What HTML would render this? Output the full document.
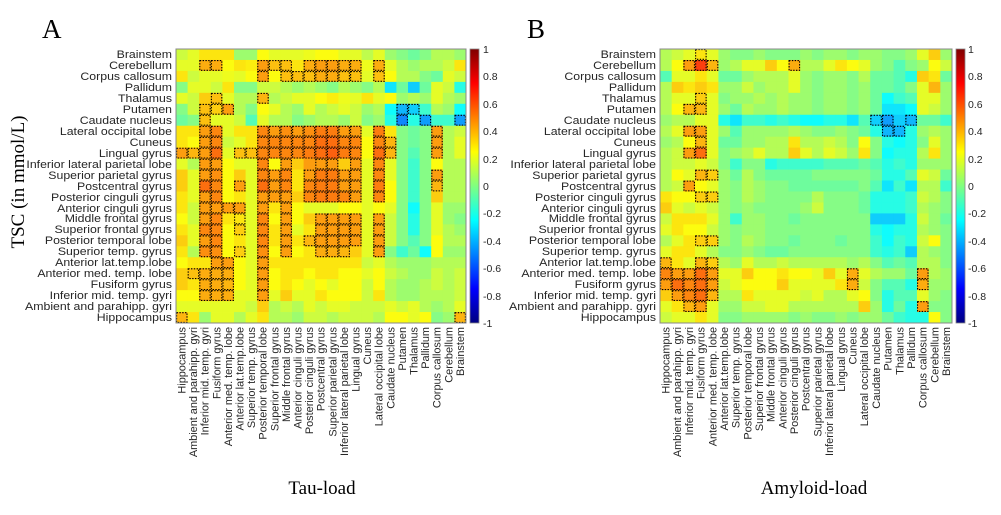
<!DOCTYPE html>
<html><head><meta charset="utf-8"><style>
html,body{margin:0;padding:0;background:#fff;}
svg{display:block;}
.lb{font-family:"Liberation Sans",Arial,sans-serif;font-size:10.5px;fill:#262626;}
.rl{font-size:11px;}
.cl{font-size:10.9px;}
.sf{font-family:"Liberation Serif","Times New Roman",serif;fill:#000;}
</style></head><body>
<svg id="s" width="1001" height="515" viewBox="0 0 1001 515" xmlns="http://www.w3.org/2000/svg">
<defs>
<linearGradient id="jet" x1="0" y1="0" x2="0" y2="1">
<stop offset="0" stop-color="#800000"/><stop offset="0.125" stop-color="#ff0000"/>
<stop offset="0.375" stop-color="#ffff00"/><stop offset="0.5" stop-color="#80ff80"/>
<stop offset="0.625" stop-color="#00ffff"/><stop offset="0.875" stop-color="#0000ff"/>
<stop offset="1" stop-color="#000080"/>
</linearGradient>
</defs>
<text class="sf" x="42" y="38" font-size="27">A</text>
<text class="sf" x="527" y="38" font-size="27">B</text>
<text class="sf" font-size="19" text-anchor="middle" transform="translate(24,182) rotate(-90)">TSC (in mmol/L)</text>
<text class="sf" x="322" y="494" font-size="19" text-anchor="middle">Tau-load</text>
<text class="sf" x="814" y="494" font-size="19" text-anchor="middle">Amyloid-load</text>
<g id="cellsA"></g><g id="cellsB"></g>
<rect x="176" y="49" width="290" height="274" fill="none" stroke="#888" stroke-width="1"/>
<rect x="660" y="49" width="292" height="274" fill="none" stroke="#888" stroke-width="1"/>
<rect x="470" y="49" width="9" height="274" fill="url(#jet)" stroke="#888" stroke-width="0.8"/>
<rect x="956" y="49" width="9" height="274" fill="url(#jet)" stroke="#888" stroke-width="0.8"/>
<g class="lb" text-anchor="start">
<text x="483" y="53">1</text><text x="483" y="80">0.8</text><text x="483" y="108">0.6</text><text x="483" y="135">0.4</text><text x="483" y="163">0.2</text><text x="483" y="190">0</text><text x="483" y="217">-0.2</text><text x="483" y="245">-0.4</text><text x="483" y="272">-0.6</text><text x="483" y="300">-0.8</text><text x="483" y="327">-1</text>
<text x="968" y="53">1</text><text x="968" y="80">0.8</text><text x="968" y="108">0.6</text><text x="968" y="135">0.4</text><text x="968" y="163">0.2</text><text x="968" y="190">0</text><text x="968" y="217">-0.2</text><text x="968" y="245">-0.4</text><text x="968" y="272">-0.6</text><text x="968" y="300">-0.8</text><text x="968" y="327">-1</text>
</g>
<g class="lb rl" text-anchor="end" transform="translate(172,0) scale(1.12,1) translate(-172,0)">
<text x="172" y="58">Brainstem</text><text x="172" y="69">Cerebellum</text><text x="172" y="80">Corpus callosum</text><text x="172" y="91">Pallidum</text><text x="172" y="102">Thalamus</text><text x="172" y="113">Putamen</text><text x="172" y="124">Caudate nucleus</text><text x="172" y="135">Lateral occipital lobe</text><text x="172" y="146">Cuneus</text><text x="172" y="157">Lingual gyrus</text><text x="172" y="168">Inferior lateral parietal lobe</text><text x="172" y="179">Superior parietal gyrus</text><text x="172" y="190">Postcentral gyrus</text><text x="172" y="201">Posterior cinguli gyrus</text><text x="172" y="212">Anterior cinguli gyrus</text><text x="172" y="222">Middle frontal gyrus</text><text x="172" y="233">Superior frontal gyrus</text><text x="172" y="244">Posterior temporal lobe</text><text x="172" y="255">Superior temp. gyrus</text><text x="172" y="266">Anterior lat.temp.lobe</text><text x="172" y="277">Anterior med. temp. lobe</text><text x="172" y="288">Fusiform gyrus</text><text x="172" y="299">Inferior mid. temp. gyri</text><text x="172" y="310">Ambient and parahipp. gyri</text><text x="172" y="321">Hippocampus</text>
</g>
<g class="lb rl" text-anchor="end" transform="translate(656,0) scale(1.12,1) translate(-656,0)">
<text x="656" y="58">Brainstem</text><text x="656" y="69">Cerebellum</text><text x="656" y="80">Corpus callosum</text><text x="656" y="91">Pallidum</text><text x="656" y="102">Thalamus</text><text x="656" y="113">Putamen</text><text x="656" y="124">Caudate nucleus</text><text x="656" y="135">Lateral occipital lobe</text><text x="656" y="146">Cuneus</text><text x="656" y="157">Lingual gyrus</text><text x="656" y="168">Inferior lateral parietal lobe</text><text x="656" y="179">Superior parietal gyrus</text><text x="656" y="190">Postcentral gyrus</text><text x="656" y="201">Posterior cinguli gyrus</text><text x="656" y="212">Anterior cinguli gyrus</text><text x="656" y="222">Middle frontal gyrus</text><text x="656" y="233">Superior frontal gyrus</text><text x="656" y="244">Posterior temporal lobe</text><text x="656" y="255">Superior temp. gyrus</text><text x="656" y="266">Anterior lat.temp.lobe</text><text x="656" y="277">Anterior med. temp. lobe</text><text x="656" y="288">Fusiform gyrus</text><text x="656" y="299">Inferior mid. temp. gyri</text><text x="656" y="310">Ambient and parahipp. gyri</text><text x="656" y="321">Hippocampus</text>
</g>
<g class="lb cl" text-anchor="end">
<text transform="translate(185.5,327) rotate(-90)">Hippocampus</text>
<text transform="translate(197.1,327) rotate(-90)">Ambient and parahipp. gyri</text>
<text transform="translate(208.7,327) rotate(-90)">Inferior mid. temp. gyri</text>
<text transform="translate(220.3,327) rotate(-90)">Fusiform gyrus</text>
<text transform="translate(231.9,327) rotate(-90)">Anterior med. temp. lobe</text>
<text transform="translate(243.5,327) rotate(-90)">Anterior lat.temp.lobe</text>
<text transform="translate(255.1,327) rotate(-90)">Superior temp. gyrus</text>
<text transform="translate(266.7,327) rotate(-90)">Posterior temporal lobe</text>
<text transform="translate(278.3,327) rotate(-90)">Superior frontal gyrus</text>
<text transform="translate(289.9,327) rotate(-90)">Middle frontal gyrus</text>
<text transform="translate(301.5,327) rotate(-90)">Anterior cinguli gyrus</text>
<text transform="translate(313.1,327) rotate(-90)">Posterior cinguli gyrus</text>
<text transform="translate(324.7,327) rotate(-90)">Postcentral gyrus</text>
<text transform="translate(336.3,327) rotate(-90)">Superior parietal gyrus</text>
<text transform="translate(347.9,327) rotate(-90)">Inferior lateral parietal lobe</text>
<text transform="translate(359.5,327) rotate(-90)">Lingual gyrus</text>
<text transform="translate(371.1,327) rotate(-90)">Cuneus</text>
<text transform="translate(382.7,327) rotate(-90)">Lateral occipital lobe</text>
<text transform="translate(394.3,327) rotate(-90)">Caudate nucleus</text>
<text transform="translate(405.9,327) rotate(-90)">Putamen</text>
<text transform="translate(417.5,327) rotate(-90)">Thalamus</text>
<text transform="translate(429.1,327) rotate(-90)">Pallidum</text>
<text transform="translate(440.7,327) rotate(-90)">Corpus callosum</text>
<text transform="translate(452.3,327) rotate(-90)">Cerebellum</text>
<text transform="translate(463.9,327) rotate(-90)">Brainstem</text>
<text transform="translate(669.5,327) rotate(-90)">Hippocampus</text>
<text transform="translate(681.2,327) rotate(-90)">Ambient and parahipp. gyri</text>
<text transform="translate(692.9,327) rotate(-90)">Inferior mid. temp. gyri</text>
<text transform="translate(704.6,327) rotate(-90)">Fusiform gyrus</text>
<text transform="translate(716.3,327) rotate(-90)">Anterior med. temp. lobe</text>
<text transform="translate(727.9,327) rotate(-90)">Anterior lat.temp.lobe</text>
<text transform="translate(739.6,327) rotate(-90)">Superior temp. gyrus</text>
<text transform="translate(751.3,327) rotate(-90)">Posterior temporal lobe</text>
<text transform="translate(763,327) rotate(-90)">Superior frontal gyrus</text>
<text transform="translate(774.7,327) rotate(-90)">Middle frontal gyrus</text>
<text transform="translate(786.4,327) rotate(-90)">Anterior cinguli gyrus</text>
<text transform="translate(798.1,327) rotate(-90)">Posterior cinguli gyrus</text>
<text transform="translate(809.7,327) rotate(-90)">Postcentral gyrus</text>
<text transform="translate(821.4,327) rotate(-90)">Superior parietal gyrus</text>
<text transform="translate(833.1,327) rotate(-90)">Inferior lateral parietal lobe</text>
<text transform="translate(844.8,327) rotate(-90)">Lingual gyrus</text>
<text transform="translate(856.5,327) rotate(-90)">Cuneus</text>
<text transform="translate(868.2,327) rotate(-90)">Lateral occipital lobe</text>
<text transform="translate(879.9,327) rotate(-90)">Caudate nucleus</text>
<text transform="translate(891.6,327) rotate(-90)">Putamen</text>
<text transform="translate(903.3,327) rotate(-90)">Thalamus</text>
<text transform="translate(914.9,327) rotate(-90)">Pallidum</text>
<text transform="translate(926.6,327) rotate(-90)">Corpus callosum</text>
<text transform="translate(938.3,327) rotate(-90)">Cerebellum</text>
<text transform="translate(950,327) rotate(-90)">Brainstem</text>
</g>
</svg>
<script>
var A=[
"15,20,30,30,30,5,5,25,20,20,20,22,25,25,20,20,12,20,5,0,-5,0,10,10,5",
"20,20,*42,*42,25,30,28,*45,*38,*38,30,*42,*45,*45,*42,*42,22,*42,20,10,5,10,10,15,30",
"30,15,20,20,22,20,25,*45,25,*38,*38,*38,*42,*42,*38,*38,20,*38,25,10,10,0,-5,20,15",
"0,20,20,15,30,0,0,15,15,10,5,10,5,0,10,5,0,10,-30,-5,-35,-5,20,15,-20",
"20,15,35,*38,20,10,10,*40,10,15,20,20,25,28,22,20,30,20,25,5,10,5,20,10,5",
"0,15,*38,*35,*45,10,0,25,20,10,5,20,10,15,20,15,5,10,-25,*-40,*-35,-15,10,5,-25",
"-5,0,*38,20,20,15,-10,20,10,10,0,5,10,10,5,15,0,5,-20,*-50,-20,*-45,-15,-15,*-45",
"30,30,*45,*50,20,30,30,*50,*45,*48,*45,*48,*52,*52,*45,*45,20,*52,30,0,-5,0,*45,10,15",
"30,25,*45,*50,15,20,30,*50,*50,*50,*50,*50,*55,*55,*50,*50,25,*50,*40,0,-5,0,*45,10,20",
"*45,*40,*45,*55,20,*38,*38,*50,*50,*50,*50,*52,*55,*58,*52,*50,25,*55,*40,0,-10,0,*45,10,20",
"20,10,*45,*45,25,20,20,*50,25,*45,35,45,*45,*45,35,*45,20,*50,20,0,-15,0,25,10,10",
"35,20,*45,*48,25,35,20,*50,*45,*50,30,*45,*52,*52,*45,*45,20,*50,20,0,-15,0,*45,10,10",
"35,20,*55,*50,25,*45,20,*55,*45,*50,30,*50,*52,*52,*45,*45,20,*52,25,0,-15,0,*40,10,10",
"30,20,*45,*50,25,30,20,*45,*45,*45,35,*50,*52,*52,*50,*45,20,*50,25,0,-15,0,35,10,10",
"30,15,*45,*45,*45,*45,20,*45,30,*45,25,20,20,20,25,25,20,25,20,0,-25,0,20,5,5",
"25,15,*45,*50,30,*30,20,*50,25,*45,25,35,*45,*45,*45,*45,20,*45,15,0,-20,0,20,5,0",
"30,20,*50,*50,25,*35,20,*50,30,*45,20,30,*45,*45,*45,*45,20,*45,15,0,-20,0,20,10,5",
"35,20,*45,*50,25,30,20,*50,30,*45,30,*40,*45,*45,*45,*45,20,*45,15,0,-10,0,25,10,10",
"30,10,*48,*48,25,*35,20,*48,25,*45,25,30,*42,*42,*40,35,20,*45,0,-15,-5,-25,25,5,5",
"25,30,30,*45,*45,25,20,*45,30,30,30,30,30,30,30,30,15,20,10,5,5,5,10,10,10",
"35,*38,*42,*42,*42,25,20,*45,25,30,30,25,30,30,25,25,20,25,15,10,5,5,15,10,15",
"35,30,*42,*42,*40,25,20,*45,25,30,25,20,25,20,25,25,15,25,10,5,5,10,15,10,15",
"25,25,*42,*42,*42,20,20,*45,20,35,20,20,30,25,25,25,15,30,10,5,5,10,10,10,15",
"20,20,20,20,20,20,15,35,10,15,10,20,15,20,20,15,15,15,20,15,20,10,5,10,20",
"*40,30,5,20,20,10,20,30,10,10,5,15,15,10,15,15,15,10,25,25,20,25,0,5,*40"];
var B=[
"10,15,20,*30,20,5,0,0,5,0,0,0,5,0,5,5,0,5,5,0,0,5,20,35,5",
"10,25,*45,*65,*40,5,10,20,20,35,25,*42,10,10,20,30,25,20,5,0,-10,0,5,25,15",
"-10,20,20,30,20,-5,-5,5,10,10,10,20,5,0,5,5,0,10,-5,-5,-10,-20,35,30,-5",
"10,35,30,35,30,5,5,15,5,10,10,20,5,0,5,5,0,5,-5,-5,-10,0,20,40,5",
"10,20,20,*35,20,0,5,5,10,5,10,5,5,0,5,5,0,5,-5,-25,-15,-10,20,20,5",
"10,25,*40,*40,20,5,-5,10,5,5,10,5,5,0,5,5,0,5,-5,-30,-30,-25,20,15,5",
"5,10,10,20,20,-20,-30,-15,-15,-20,-15,-20,-25,-25,-20,-20,-30,-10,*-35,*-45,-35,*-40,-5,-5,-15",
"10,20,*45,*45,20,5,-10,5,5,5,5,10,5,0,0,5,0,-5,-20,*-40,*-40,-20,5,10,5",
"5,10,25,*40,20,-5,-5,5,5,10,10,30,10,10,15,10,0,25,0,-20,-25,-20,0,20,5",
"10,15,*45,*55,20,0,5,10,20,10,10,35,20,10,20,15,5,30,0,-25,-20,-20,10,30,5",
"10,15,15,20,15,0,-15,0,0,-20,-15,-15,-15,-15,-10,-10,-10,-5,-10,-20,-15,-20,5,5,5",
"10,25,20,*40,*35,5,-5,10,0,-5,-5,-5,-5,0,0,0,0,0,-5,-20,-20,-10,20,15,-5",
"10,15,*45,25,20,5,0,10,5,0,0,-5,-5,-5,-5,-5,-5,0,-10,-30,-15,-30,10,10,-15",
"30,25,25,*35,*35,5,0,10,5,0,0,0,0,10,0,0,0,-5,-20,-20,-20,-15,15,10,0",
"35,20,15,20,15,5,0,5,0,0,0,0,5,15,0,0,0,-5,-20,-20,-20,-15,10,5,0",
"15,30,30,30,20,5,-15,5,5,0,0,-5,0,0,0,0,0,0,-35,-35,-35,-20,15,5,-5",
"20,30,25,25,15,5,0,5,5,0,0,0,0,0,0,0,0,0,-20,-25,-20,-20,10,5,0",
"10,20,30,*35,*35,5,0,10,5,0,0,-5,0,0,0,-5,0,0,-15,-25,-15,-20,15,25,0",
"20,30,30,20,10,0,0,5,0,-5,-5,0,0,0,0,0,0,0,-15,-20,-15,-35,10,5,0",
"*40,30,20,*40,*35,10,5,20,10,10,15,10,10,10,10,10,5,10,0,-10,-5,-10,10,10,0",
"*50,*45,*45,*55,*45,20,20,35,25,25,30,25,25,20,35,20,*42,20,10,5,5,-5,*45,10,5",
"*45,*55,*50,*55,*45,15,20,25,25,25,35,20,20,20,20,30,*42,15,0,-10,-10,-20,*42,5,5",
"35,*45,*50,*55,*40,10,10,30,20,20,20,20,15,20,10,10,20,25,0,-20,-10,-10,20,5,0",
"20,30,*40,*45,20,5,5,15,15,20,20,10,10,10,10,10,10,35,5,-20,-5,-20,*45,0,0",
"15,20,20,30,20,0,0,5,5,5,5,0,5,0,0,5,0,5,5,-5,-15,-20,-20,25,0"];
function cl(x){return Math.max(0,Math.min(1,x));}
function jet(v){var t=(v+1)/2;var r=cl(1.5-Math.abs(4*t-3)),g=cl(1.5-Math.abs(4*t-2)),b=cl(1.5-Math.abs(4*t-1));
var m=0.07;r=r*(1-m)+0.85*m;g=g*(1-m)+0.85*m;b=b*(1-m)+0.85*m;
return "rgb("+Math.round(r*255)+","+Math.round(g*255)+","+Math.round(b*255)+")";}
function draw(M,id,x0,w){var s="",bx="",h=274/25;
for(var i=0;i<25;i++){var row=M[i].split(",");for(var j=0;j<25;j++){var c=row[j],box=c[0]=="*";var v=parseFloat(box?c.slice(1):c)/100;
var x=x0+j*w,y=49+i*h;s+='<rect x="'+x.toFixed(2)+'" y="'+y.toFixed(2)+'" width="'+(w+0.4).toFixed(2)+'" height="'+(h+0.4).toFixed(2)+'" fill="'+jet(v)+'"/>';
if(box)bx+='<rect x="'+(x+0.6).toFixed(2)+'" y="'+(y+0.6).toFixed(2)+'" width="'+(w-1.2).toFixed(2)+'" height="'+(h-1.2).toFixed(2)+'" fill="none" stroke="#000" stroke-width="1.1" stroke-dasharray="1.4,1.4"/>';}}
document.getElementById(id).innerHTML=s+bx;}
draw(A,"cellsA",176,290/25);draw(B,"cellsB",660,292/25);
</script>
</body></html>
